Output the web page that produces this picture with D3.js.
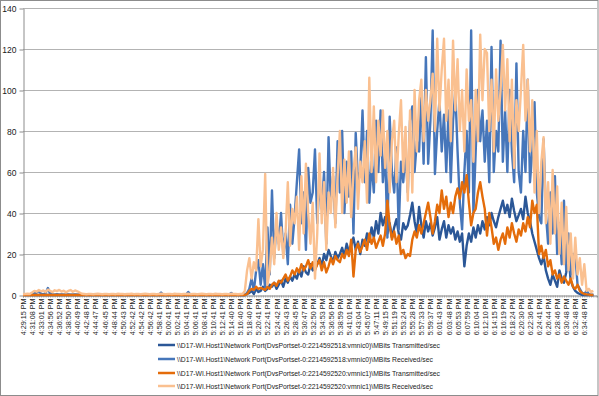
<!DOCTYPE html>
<html lang="en">
<head>
<meta charset="UTF-8">
<script src="https://d3js.org/d3.v7.min.js"></script>
<title>Network port throughput</title>
<style>
  body { margin: 0; background: #fff; }
  text { font-family: "Liberation Sans", Arial, sans-serif; fill: #1a1a1a; }
</style>
</head>
<body>
<script>

// category labels shown under the x axis (one every 4 samples)
var tickLabels = ["4:29:15 PM","4:31:08 PM","4:33:01 PM","4:34:56 PM","4:36:52 PM","4:38:50 PM","4:40:49 PM","4:42:48 PM","4:44:47 PM","4:46:45 PM",
  "4:48:44 PM","4:50:43 PM","4:52:42 PM","4:54:42 PM","4:56:42 PM","4:58:41 PM","5:00:41 PM","5:02:41 PM","5:04:41 PM","5:06:41 PM",
  "5:08:41 PM","5:10:41 PM","5:12:41 PM","5:14:40 PM","5:16:40 PM","5:18:40 PM","5:20:41 PM","5:22:41 PM","5:24:42 PM","5:26:43 PM",
  "5:28:45 PM","5:30:47 PM","5:32:50 PM","5:34:53 PM","5:36:56 PM","5:38:59 PM","5:41:01 PM","5:43:04 PM","5:45:07 PM","5:47:11 PM",
  "5:49:15 PM","5:51:19 PM","5:53:24 PM","5:55:28 PM","5:57:33 PM","5:59:37 PM","6:01:43 PM","6:03:48 PM","6:05:53 PM","6:07:59 PM",
  "6:10:04 PM","6:12:10 PM","6:14:15 PM","6:16:19 PM","6:18:24 PM","6:20:30 PM","6:22:36 PM","6:24:41 PM","6:26:44 PM","6:28:46 PM",
  "6:30:48 PM","6:32:48 PM","6:34:48 PM"];

var seriesNames = [
  "\\\\D17-WI.Host1\\Network Port(DvsPortset-0:2214592518:vmnic0)\\MBits Transmitted/sec",
  "\\\\D17-WI.Host1\\Network Port(DvsPortset-0:2214592518:vmnic0)\\MBits Received/sec",
  "\\\\D17-WI.Host1\\Network Port(DvsPortset-0:2214592520:vmnic1)\\MBits Transmitted/sec",
  "\\\\D17-WI.Host1\\Network Port(DvsPortset-0:2214592520:vmnic1)\\MBits Received/sec"
];

var colors = ["#2B5797", "#4676BA", "#E46C0A", "#FAC090"];

// vmnic0 transmitted
var txVmnic0 = [0,0,0,0,0,0,0,0,0,0,
  0,0,0,0,0,0,0,0,0,0,
  0,0,0,0,0,0,0,0,0,0,
  0,0,0,0,0,0,0,0,0,0,
  0,0,0,0,0,0,0,0,0,0,
  0,0,0,0,0,0,0,0,0,0,
  0,0,0,0,0,0,0,0,0,0,
  0,0,0,0,0,0,0,0,0,0,
  0,0,0,0,0,0,0,0,0,0,
  0,0,0,0,0,0,0,0,0,0.5,
  1,2,0.5,3,1.5,2,4,2,3,5,
  4,6,3,5,7,4,8,6,9,7,
  10,8,12,9,14,11,10,15,12,13,
  15,18,14,20,17,22,19,16,21,18,
  20,23,19,25,21,24,28,22,26,20,
  27,24,30,26,33,28,36,30,40,34,
  38,30,35,28,33,37,30,27,35,32,
  34,39,45,36,30,43,34,28,36,31,
  35,29,33,38,27,32,36,28,34,30,
  33,27,31,26,30,14,24,30,26,33,
  28,34,30,36,32,38,34,40,36,33,
  38,42,46,40,44,38,47,41,36,39,
  42,37,48,40,36,30,26,22,18,15,
  19,12,8,5,10,7,4,12,8,6,
  11,19,7,4,2,1,0.5,0,0,0,
  0,0,0];

// vmnic0 received
var rxVmnic0 = [0.2,0.2,0.3,0.2,0.5,0.8,1.2,2.0,0.6,0.3,
  1.0,3.4,0.5,0.3,0.2,0.4,0.2,0.3,0.2,0.2,
  0.3,0.2,0.2,0.3,0.2,0.2,0.2,0.1,0.2,0.1,
  0.1,0.2,0.1,0.1,0.2,0.1,0.1,0.1,0.2,0.1,
  0.1,0.1,0.2,0.1,0.1,0.1,0.1,0.2,0.1,0.1,
  0.1,0.2,0.1,0.1,0.1,0.1,0.2,0.1,0.1,0.1,
  0.1,1.2,0.1,0.1,0.2,0.1,0.1,0.1,0.1,0.2,
  0.1,0.1,0.1,1.5,0.1,0.1,0.2,0.1,0.1,0.1,
  0.1,0.1,0.2,0.1,0.1,0.1,0.1,0.1,0.2,0.1,
  0.1,0.1,1.0,0.1,0.1,0.1,0,0,0,1,
  3,8,2,12,17,5,15,3,33,10,
  51,18,35,25,40,20,30,15,44,25,
  38,55,71,35,50,22,62,45,50,71,
  35,55,42,60,25,77,45,58,35,75,
  50,80,40,65,48,70,30,79,55,60,
  90,55,80,45,65,50,85,60,90,55,
  70,28,87,60,50,72,32,65,55,70,
  50,85,92,60,75,70,100,64,116,64,
  85,129,59,80,95,70,88,60,90,55,
  85,100,70,45,32,60,80,50,129,40,
  70,100,75,90,65,85,55,121,60,80,
  70,124,65,90,60,100,70,55,113,60,
  50,80,60,105,55,70,94,50,38,35,
  76,40,25,50,30,58,20,35,15,46,
  12,30,10,20,20,5,3,1,0.5,2,
  0.5,0,0];

// vmnic1 transmitted
var txVmnic1 = [0,0,0,0,0,0,0,0,0,0,
  0,0,0,0,0,0,0,0,0,0,
  0,0,0,0,0,0,0,0,0,0,
  0,0,0,0,0,0,0,0,0,0,
  0,0,0,0,0,0,0,0,0,0,
  0,0,0,0,0,0,0,0,0,0,
  0,0,0,0,0,0,0,0,0,0,
  0,0,0,0,0,0,0,0,0,0,
  0,0,0,0,0,0,0,0,0,0,
  0,0,0,0,0,0,0,0,0,0.5,
  2,3,2.5,4,3,3.5,3,2.5,4,3,
  5,6,4.5,7,6,8,10,7,9,12,
  10,13,11,15,12,14,17,13,16,12,
  15,17,12,16,11,14,18,15,19,17,
  16,20,18,22,19,27,9,22,25,21,
  24,27,22,30,25,28,23,26,29,24,
  30,46,34,27,31,25,29,20,22,18,
  20,19,27,31,28,34,30,35,40,45,
  38,30,36,44,40,51,42,48,38,45,
  40,48,52,47,55,50,58.5,45,34,40,
  42,50,55,48,42,29,40,33,25,28,
  22,27,30,25,33,28,35,30,26,32,
  29,35,31,38,33,46,40,44,20,24,
  18,22,14,17,10,12,8,10,6,9,
  7,5,8,4,3,5,2,1,0.5,0.3,
  0.2,0,0];

// vmnic1 received
var rxVmnic1 = [0.4,0.5,0.6,0.5,1.2,2.0,1.6,2.4,1.8,2.2,
  1.5,2.6,2.0,1.4,2.3,1.9,2.5,1.7,2.1,1.3,
  2.0,2.4,1.6,2.2,1.8,1.2,0.6,0.5,0.4,0.5,
  0.5,0.4,0.5,0.6,0.5,0.4,0.5,0.5,0.4,0.5,
  0.5,0.4,0.6,0.5,0.5,0.4,0.5,0.5,0.6,0.4,
  0.5,0.5,0.4,0.5,0.6,0.5,0.4,0.5,0.5,0.4,
  0.5,0.6,0.5,0.4,0.5,0.5,0.4,0.6,0.5,0.5,
  0.4,0.5,0.5,0.6,0.4,0.5,0.5,0.4,0.5,0.6,
  0.5,0.4,0.5,0.5,0.4,0.6,0.5,0.5,0.4,0.5,
  0.5,0.4,0.6,0.5,0.5,0.4,0.5,0.5,2,12,
  18,8,16,12,37,14,22,59,5,12,
  28,15,40,22,33,18,30,55,24,42,
  35,48,22,58,30,64,40,25,45,8,
  30,69,35,55,22,50,40,62,33,58,
  80,40,66,45,70,38,60,72,42,65,
  55,75,45,106,60,92,55,85,68,90,
  62,80,50,75,85,55,78,95,60,82,
  46,90,50,100,70,95,105,75,100,85,
  95,108,80,125,90,110,125,85,105,75,
  124,90,115,80,100,70,110,85,95,65,
  100,75,127,95,120,118,80,105,70,110,
  85,100,122,90,115,75,105,62,95,80,
  100,122,85,105,70,95,50,80,40,65,
  77,35,55,25,61,30,53,20,45,15,
  43,12,30,8,28,10,18,5,15,2,
  3,1.5,2];

var yTicks = [0, 20, 40, 60, 80, 100, 120, 140];
var samplesPerLabel = 4;

var width = 599, height = 396;
var margin = {top: 8, right: 2, bottom: 101, left: 23};
var plotBottom = height - margin.bottom;

var svg = d3.select("body").append("svg")
    .attr("width", width)
    .attr("height", height);

// outer chart border
svg.append("rect")
    .attr("x", 0.5).attr("y", 0.5)
    .attr("width", width - 1.5).attr("height", height - 1)
    .attr("fill", "#fff")
    .attr("stroke", "#8c8c8c");

var allSeries = [txVmnic0, rxVmnic0, txVmnic1, rxVmnic1];

var x = d3.scaleLinear()
    .domain([0, 253.6])
    .range([margin.left, width - margin.right]);

var y = d3.scaleLinear()
    .domain([0, 140])
    .range([plotBottom, margin.top]);

// gridlines
svg.append("g")
    .selectAll("line")
    .data(yTicks.slice(1))
    .enter().append("line")
    .attr("x1", margin.left).attr("x2", width - margin.right)
    .attr("y1", function(d) { return Math.round(y(d)) + 0.5; })
    .attr("y2", function(d) { return Math.round(y(d)) + 0.5; })
    .attr("stroke", "#b3b3b3");

// y axis
var yAxis = svg.append("g")
    .attr("transform", "translate(" + (margin.left + 0.5) + ",0.5)")
    .call(d3.axisLeft(y).tickValues(yTicks).tickSize(4).tickPadding(3).tickSizeOuter(0));
yAxis.select(".domain").attr("stroke", "#8c8c8c");
yAxis.selectAll(".tick line").attr("stroke", "#8c8c8c");
yAxis.selectAll("text").style("font-size", "8.5px").style("font-family", "Liberation Sans, Arial, sans-serif");

// x axis: fine ticks for every sample
var minor = svg.append("g")
    .attr("transform", "translate(0," + (plotBottom + 0.5) + ")")
    .call(d3.axisBottom(x).tickValues(d3.range(0, 254, 1)).tickSize(2).tickFormat(""));
minor.select(".domain").attr("stroke", "#8c8c8c");
minor.selectAll(".tick line").attr("stroke", "#a0a0a0");

// x axis labels
var xAxis = svg.append("g")
    .attr("transform", "translate(0," + (plotBottom + 0.5) + ")")
    .call(d3.axisBottom(x)
        .tickValues(d3.range(0, tickLabels.length).map(function(i) { return i * samplesPerLabel; }))
        .tickSize(0)
        .tickFormat(function(d) { return tickLabels[d / samplesPerLabel]; }));
xAxis.select(".domain").remove();
xAxis.selectAll("text")
    .style("font-size", "7.2px")
    .style("font-family", "Liberation Sans, Arial, sans-serif")
    .style("text-anchor", "end")
    .attr("transform", "rotate(-90)")
    .attr("x", -3)
    .attr("y", 0)
    .attr("dy", "0.35em");

// lines
var line = d3.line()
    .x(function(d, i) { return x(i); })
    .y(function(d) { return y(d); });

svg.append("g")
    .selectAll("path")
    .data(allSeries)
    .enter().append("path")
    .attr("d", line)
    .attr("fill", "none")
    .attr("stroke", function(d, i) { return colors[i]; })
    .attr("stroke-width", 2.4)
    .attr("stroke-linejoin", "round");

// legend
var legendY = [345, 359, 373, 386];
var legend = svg.append("g")
    .selectAll("g")
    .data(seriesNames)
    .enter().append("g")
    .attr("transform", function(d, i) { return "translate(0," + legendY[i] + ")"; });

legend.append("line")
    .attr("x1", 158).attr("x2", 175)
    .attr("stroke", function(d, i) { return colors[i]; })
    .attr("stroke-width", 2.5);

var legendText = legend.append("text")
    .attr("x", 177)
    .attr("dy", "0.35em")
    .style("font-size", "8px")
    .text(function(d) { return d; });

var firstLen = legendText.node().getComputedTextLength();
var squeeze = 263 / firstLen;
legendText.each(function() {
    var len = this.getComputedTextLength();
    d3.select(this).attr("textLength", len * squeeze).attr("lengthAdjust", "spacingAndGlyphs");
});

</script>
</body>
</html>
